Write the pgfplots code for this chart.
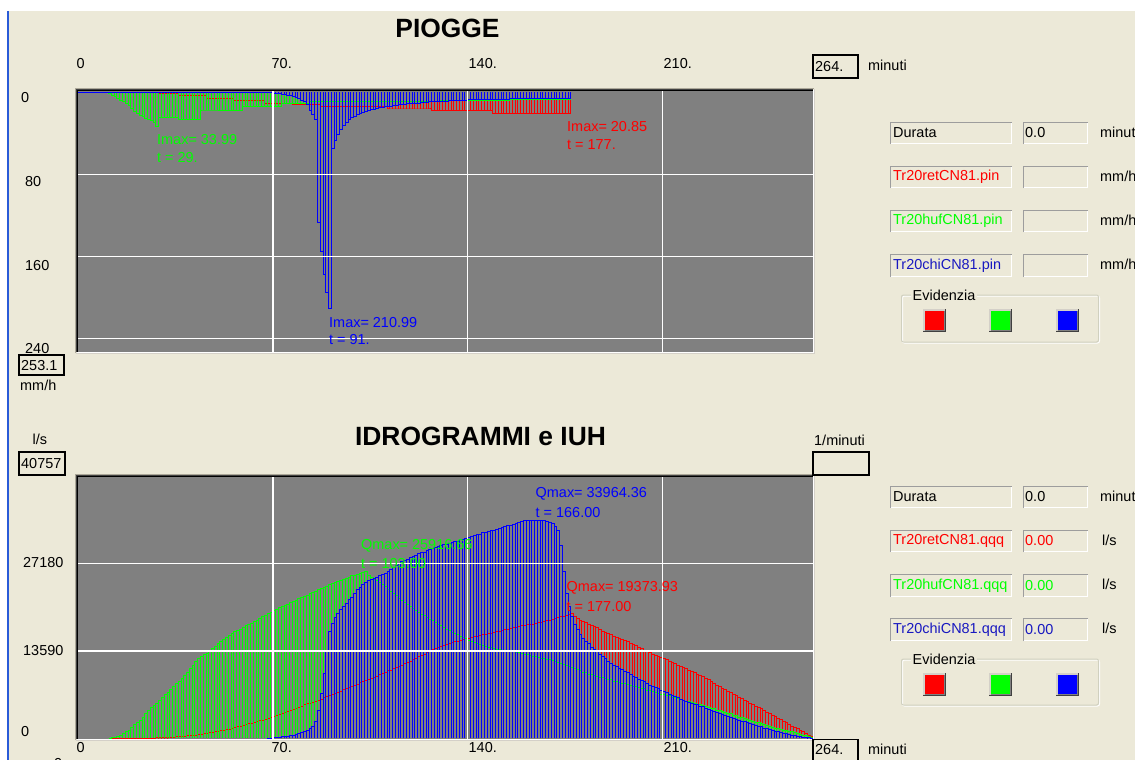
\documentclass[border=0pt]{standalone}
\usepackage{fontspec}
\setmainfont{Liberation Sans}
\usepackage{pgfplots}
\usepackage{pgfplotstable}
\pgfplotsset{compat=1.18}
\definecolor{bg}{HTML}{ECE9D8}
\definecolor{plotgray}{HTML}{808080}
\definecolor{rr}{HTML}{FF0000}
\definecolor{gg}{HTML}{00FF00}
\definecolor{bb}{HTML}{0000FF}
\definecolor{bt}{HTML}{1818C0}
\definecolor{xpblue}{HTML}{2A5BD7}
\definecolor{cA}{HTML}{ACA899}
\definecolor{cB}{HTML}{404040}
\definecolor{cC}{HTML}{D4D0C8}
\definecolor{cD}{HTML}{D0D0BF}
\definecolor{cE}{HTML}{9D9D9D}

% Top plot: rain intensity (mm/h), bar t..t+1
\pgfplotstableread{
t r g b
0 0 0 0
1 0 0 0
2 0 0 0
3 0 0 0
4 0 0 0
5 0 0 0
6 0 0 0
7 0 0 0
8 0 0 0
9 0 0 0
10 0 0 0
11 0 1.3 0
12 0.6 3.0 0
13 0.6 4.5 0
14 0.6 6.1 0
15 0.6 8.0 0
16 0.6 9.5 0
17 0.6 11.0 0
18 0.6 13.5 0
19 0.6 15.8 0
20 0.6 18.5 0
21 0.6 20.7 0
22 0.6 22.9 0
23 0.6 23.8 0
24 0.6 25.5 0
25 0.6 26.5 0
26 0.6 27.5 0
27 0.6 29.4 0
28 0.6 33.99 0
29 1.3 24.6 0
30 1.3 24.6 0
31 1.3 24.6 0
32 1.3 24.6 0
33 1.3 24.6 0
34 1.3 24.6 0
35 1.3 24.6 0
36 3.6 26.8 0
37 3.6 26.8 0
38 3.6 26.8 0
39 3.6 26.8 0
40 3.6 26.8 0
41 3.6 26.8 0
42 3.6 26.8 0
43 3.6 26.8 0
44 3.6 17.5 0
45 3.6 17.5 0
46 6.1 17.5 0
47 6.1 17.5 0
48 6.1 17.5 0
49 6.1 17.5 0
50 6.1 17.5 0
51 6.1 18.4 0
52 6.1 18.4 0
53 6.1 18.4 0
54 6.1 18.4 0
55 6.1 18.4 0
56 8.7 18.4 0
57 8.7 18.4 0
58 8.7 18.4 0
59 8.7 14.2 0
60 8.7 14.2 0
61 8.7 14.2 0
62 8.7 14.2 0
63 8.7 14.2 0
64 8.7 14.2 0
65 8.7 14.2 0
66 8.7 14.2 0
67 11.0 14.2 0
68 11.0 14.2 0.5
69 11.0 14.2 0.8
70 11.0 14.2 1.0
71 11.0 14.2 1.3
72 11.0 14.2 1.6
73 11.0 11.0 2.0
74 11.0 11.0 2.4
75 11.0 11.0 2.9
76 11.0 11.0 3.5
77 12.6 11.0 4.2
78 12.6 11.0 5.0
79 12.6 11.0 6.1
80 12.6 11.0 7.8
81 12.6 11.0 9.4
82 12.6 11.0 12.6
83 12.6 9.4 17.5
84 12.6 9.4 22.0
85 12.6 9.4 27.2
86 12.6 9.4 127
87 14.2 9.4 155
88 14.2 9.4 178
89 14.2 9.4 195
90 14.2 9.4 210.99
91 14.2 9.4 55
92 14.2 9.4 47
93 14.2 9.4 41
94 14.2 9.4 36
95 14.2 9.4 32.5
96 14.2 9.4 29.5
97 14.2 9.4 27
98 14.2 9.4 25
99 14.2 9.4 23.5
100 14.2 9.4 22
101 14.2 9.4 20.8
102 14.2 9.4 19.8
103 14.2 9.4 19.0
104 14.2 9.4 18.2
105 14.2 9.4 17.4
106 14.2 9.4 16.7
107 14.2 9.4 16.0
108 14.2 9.4 15.4
109 14.2 9.4 14.9
110 14.2 9.4 14.4
111 16.5 9.4 14.0
112 16.5 9.4 13.6
113 16.5 9.4 13.2
114 16.5 9.4 12.8
115 16.5 9.4 12.5
116 16.5 9.4 12.2
117 16.5 9.4 11.9
118 16.5 9.4 11.6
119 16.5 9.4 11.3
120 16.5 9.4 11.0
121 16.5 9.4 10.7
122 16.5 9.4 10.7
123 16.5 9.4 10.5
124 16.5 9.4 10.3
125 16.5 9.4 10.1
126 16.5 9.4 9.4
127 18.4 9.4 9.4
128 18.4 9.4 9.4
129 18.4 9.4 9.4
130 18.4 7.8 9.4
131 18.4 7.8 9.4
132 18.4 7.8 9.4
133 18.4 7.8 8.4
134 18.4 7.8 8.4
135 18.4 7.8 8.4
136 18.4 7.8 8.4
137 18.4 7.8 8.4
138 18.4 7.8 8.4
139 18.4 7.8 8.4
140 18.4 7.8 7.4
141 18.4 7.8 7.4
142 18.4 7.8 7.4
143 18.4 7.8 7.4
144 18.4 7.8 7.4
145 18.4 7.8 7.4
146 18.4 7.8 7.4
147 18.4 7.8 7.4
148 18.4 7.8 7.4
149 20.6 7.8 7.4
150 20.6 7.8 7.4
151 20.6 7.8 7.4
152 20.6 7.8 7.4
153 20.6 7.8 7.4
154 20.6 7.8 7.4
155 20.6 6.8 6.1
156 20.6 6.8 6.1
157 20.6 6.8 6.1
158 20.6 6.8 6.1
159 20.6 6.8 6.1
160 20.6 6.8 6.1
161 20.6 6.8 6.1
162 20.6 6.8 6.1
163 20.6 6.8 6.1
164 20.6 6.8 6.1
165 20.6 6.8 6.1
166 20.6 6.8 6.1
167 20.6 6.8 6.1
168 20.6 6.8 6.1
169 20.6 6.8 6.1
170 20.6 6.8 6.1
171 20.6 6.8 6.1
172 20.6 6.8 6.1
173 20.6 6.8 6.1
174 20.6 6.8 6.1
175 20.6 6.8 6.1
176 20.85 6.8 6.1
177 20.85 6.8 6.1
}\toptab

% Bottom plot: discharge (thousand l/s)
\pgfplotstableread{
t r g b
0 0 0 0
1 0 0 0
2 0 0 0
3 0 0 0
4 0 0 0
5 0 0 0
6 0 0 0
7 0 0 0
8 0 0 0
9 0 0 0
10 0 0 0
11 0 0 0
12 0 0.1 0
13 0.02 0.2 0
14 0.02 0.35 0
15 0.02 0.5 0
16 0.02 0.75 0
17 0.02 1.0 0
18 0.02 1.3 0
19 0.02 1.7 0
20 0.02 2.1 0
21 0.05 2.5 0
22 0.05 2.85 0
23 0.05 3.3 0
24 0.05 3.8 0
25 0.05 4.3 0
26 0.05 4.75 0
27 0.05 5.1 0
28 0.1 5.5 0
29 0.1 5.9 0
30 0.1 6.3 0
31 0.1 6.8 0
32 0.1 7.2 0
33 0.15 7.6 0
34 0.2 8.0 0
35 0.25 8.5 0
36 0.3 8.9 0
37 0.33 9.3 0
38 0.36 9.8 0
39 0.4 10.3 0
40 0.43 10.8 0
41 0.47 11.4 0
42 0.5 12.0 0
43 0.58 12.4 0
44 0.66 12.7 0
45 0.74 13.0 0
46 0.82 13.2 0
47 0.9 13.6 0
48 0.98 14.0 0
49 1.06 14.3 0
50 1.14 14.7 0
51 1.22 15.0 0
52 1.3 15.4 0
53 1.38 15.7 0
54 1.45 16.0 0
55 1.56 16.3 0
56 1.68 16.6 0
57 1.8 16.8 0
58 1.91 17.0 0
59 2.03 17.2 0
60 2.15 17.5 0
61 2.27 17.7 0
62 2.38 17.9 0
63 2.5 18.2 0
64 2.62 18.4 0
65 2.73 18.7 0
66 2.85 18.9 0
67 3.0 19.2 0
68 3.15 19.4 0
69 3.3 19.6 0.05
70 3.45 19.9 0.1
71 3.6 20.1 0.15
72 3.75 20.3 0.2
73 3.9 20.5 0.25
74 4.05 20.7 0.3
75 4.2 20.9 0.35
76 4.35 21.1 0.4
77 4.5 21.3 0.5
78 4.7 21.5 0.6
79 4.86 21.7 0.7
80 5.0 21.9 0.85
81 5.2 22.1 1.0
82 5.35 22.3 1.2
83 5.5 22.5 1.5
84 5.65 22.7 1.9
85 5.8 22.9 2.6
86 5.95 23.1 4.4
87 6.1 23.3 7.0
88 6.3 23.5 10.1
89 6.45 23.7 13.5
90 6.6 23.9 16.7
91 6.8 24.1 17.9
92 7.0 24.3 18.8
93 7.2 24.4 19.5
94 7.35 24.6 20.0
95 7.55 24.8 20.5
96 7.75 24.9 21.0
97 7.9 25.1 21.6
98 8.1 25.3 22.0
99 8.3 25.4 22.6
100 8.45 25.5 23.1
101 8.65 25.6 23.5
102 8.8 25.8 23.9
103 9.0 25.92 24.2
104 9.1 25.4 24.5
105 9.3 25.1 24.7
106 9.5 24.8 24.9
107 9.7 24.5 25.1
108 9.9 24.2 25.3
109 10.1 23.9 25.5
110 10.3 23.6 25.7
111 10.5 23.2 26.0
112 10.6 22.9 26.3
113 10.8 22.5 26.6
114 11.0 22.2 26.9
115 11.2 21.8 27.2
116 11.4 21.5 27.5
117 11.6 21.2 27.7
118 11.8 20.8 27.9
119 12.0 20.5 28.1
120 12.3 20.2 28.3
121 12.5 19.9 28.5
122 12.7 19.6 28.7
123 12.9 19.3 28.9
124 13.1 19.1 29.0
125 13.3 18.8 29.2
126 13.6 18.5 29.4
127 13.8 18.3 29.5
128 14.0 18.0 29.7
129 14.2 17.7 29.8
130 14.3 17.5 30.0
131 14.5 17.2 30.1
132 14.6 17.0 30.2
133 14.7 16.8 30.4
134 14.9 16.5 30.5
135 15.0 16.3 30.6
136 15.1 16.1 30.7
137 15.2 15.9 30.9
138 15.4 15.7 31.0
139 15.5 15.5 31.1
140 15.6 15.3 31.2
141 15.7 15.1 31.4
142 15.8 14.9 31.5
143 15.9 14.8 31.7
144 16.0 14.6 31.8
145 16.1 14.4 32.0
146 16.2 14.3 32.1
147 16.3 14.2 32.2
148 16.4 14.1 32.3
149 16.5 14.0 32.4
150 16.6 13.9 32.5
151 16.7 13.8 32.7
152 16.8 13.7 32.8
153 16.9 13.7 32.9
154 17.0 13.6 33.1
155 17.1 13.6 33.2
156 17.2 13.5 33.3
157 17.3 13.4 33.5
158 17.4 13.3 33.6
159 17.5 13.2 33.8
160 17.6 13.1 33.9
161 17.7 13.0 33.9
162 17.75 12.9 33.9
163 17.8 12.8 33.95
164 17.9 12.7 33.95
165 18.0 12.6 33.96
166 18.1 12.5 33.96
167 18.2 12.4 33.9
168 18.3 12.3 33.8
169 18.4 12.2 33.6
170 18.5 12.1 33.4
171 18.6 12.0 33.0
172 18.75 11.8 32.4
173 18.9 11.7 30.0
174 19.0 11.5 26.0
175 19.15 11.4 22.5
176 19.3 11.2 20.5
177 19.37 11.0 19.0
178 18.9 10.8 17.8
179 18.6 10.7 16.9
180 18.4 10.5 16.2
181 18.2 10.3 15.6
182 18.0 10.2 15.1
183 17.8 10.0 14.7
184 17.6 9.9 14.2
185 17.4 9.8 13.8
186 17.2 9.6 13.5
187 17.0 9.5 13.1
188 16.7 9.4 12.7
189 16.5 9.3 12.4
190 16.3 9.2 12.0
191 16.1 9.1 11.7
192 15.9 8.9 11.4
193 15.7 8.8 11.2
194 15.6 8.7 10.9
195 15.4 8.6 10.7
196 15.2 8.5 10.4
197 15.0 8.4 10.2
198 14.8 8.3 9.9
199 14.6 8.1 9.7
200 14.4 8.0 9.4
201 14.2 7.9 9.2
202 14.0 7.8 9.0
203 13.7 7.7 8.8
204 13.5 7.5 8.5
205 13.3 7.4 8.3
206 13.1 7.3 8.1
207 12.9 7.2 7.9
208 12.8 7.0 7.7
209 12.6 6.9 7.5
210 12.4 6.8 7.3
211 12.2 6.7 7.1
212 12.0 6.6 6.9
213 11.8 6.4 6.7
214 11.6 6.3 6.5
215 11.4 6.2 6.3
216 11.2 6.1 6.1
217 11.0 5.9 5.9
218 10.8 5.8 5.8
219 10.6 5.7 5.6
220 10.4 5.6 5.5
221 10.2 5.5 5.3
222 10.0 5.3 5.2
223 9.8 5.2 5.0
224 9.6 5.1 4.9
225 9.3 4.9 4.7
226 9.1 4.8 4.5
227 8.8 4.7 4.4
228 8.5 4.6 4.2
229 8.3 4.4 4.0
230 8.0 4.3 3.9
231 7.8 4.2 3.7
232 7.6 4.0 3.6
233 7.3 3.9 3.4
234 7.1 3.8 3.3
235 6.9 3.6 3.1
236 6.6 3.5 3.0
237 6.4 3.3 2.8
238 6.2 3.2 2.7
239 5.9 3.1 2.6
240 5.7 2.9 2.4
241 5.5 2.8 2.3
242 5.3 2.7 2.2
243 5.0 2.5 2.0
244 4.8 2.4 1.9
245 4.6 2.3 1.8
246 4.3 2.1 1.6
247 4.1 2.0 1.5
248 3.8 1.9 1.4
249 3.6 1.7 1.2
250 3.4 1.6 1.1
251 3.1 1.5 1.0
252 2.9 1.4 0.9
253 2.6 1.3 0.8
254 2.4 1.2 0.7
255 2.2 1.1 0.6
256 1.9 1.0 0.5
257 1.7 0.85 0.4
258 1.5 0.7 0.35
259 1.2 0.6 0.3
260 1.0 0.5 0.2
261 0.7 0.4 0.15
262 0.5 0.3 0.1
263 0.3 0.2 0.05
264 0 0 0
}\bottab

% sunken text box: x1 y1 x2 y2 (pixel coords, y down)
\newcommand{\sunk}[4]{%
  \fill[bg] (#1,-#2) rectangle (#3,-#4);
  \draw[line width=1.2bp, cE] (#1+0.6,-#4) -- (#1+0.6,-#2-0.6) -- (#3,-#2-0.6);
  \draw[line width=1.2bp, white] (#1+0.6,-#4+0.6) -- (#3-0.6,-#4+0.6) -- (#3-0.6,-#2-0.6);
}
% black framed box
\newcommand{\bbox}[4]{\draw[line width=1.2bp, black] (#1,-#2) rectangle (#3,-#4);}
% 3D frame around a plot area
\newcommand{\pframe}[4]{%
  \draw[line width=1bp, cA] (#1-2.5,-#4-1) -- (#1-2.5,-#2+2.5) -- (#3+1,-#2+2.5);
  \draw[line width=1bp, cB] (#1-1.5,-#4) -- (#1-1.5,-#2+1.5) -- (#3,-#2+1.5);
  \draw[line width=1bp, black] (#1-0.5,-#4) -- (#1-0.5,-#2+0.5) -- (#3,-#2+0.5);
  \draw[line width=1bp, white] (#1-1,-#4-0.5) -- (#3+0.5,-#4-0.5) -- (#3+0.5,-#2+1);
  \draw[line width=1bp, cC] (#1-2,-#4-1.5) -- (#3+1.5,-#4-1.5) -- (#3+1.5,-#2+2);
}
% coloured button square: x, y(top), colour  (23 x 23)
\newcommand{\sq}[3]{%
  \fill[#3] (#1,-#2) rectangle (#1+23,-#2-23);
  \draw[line width=1.5bp, cC] (#1+0.75,-#2-23) -- (#1+0.75,-#2-0.75) -- (#1+23,-#2-0.75);
  \draw[line width=1bp, cB] (#1,-#2-22.5) -- (#1+22.5,-#2-22.5) -- (#1+22.5,-#2);
  \draw[line width=1bp, plotgray] (#1+1.5,-#2-21.5) -- (#1+21.5,-#2-21.5) -- (#1+21.5,-#2-1.5);
}
% group box: y top, y bottom, squares' top
\newcommand{\evid}[3]{%
  \draw[line width=1bp, white, rounded corners=2bp] (902.5,-#1-1) rectangle (1099.5,-#2-1);
  \draw[line width=1bp, cD, rounded corners=2bp] (901.5,-#1) rectangle (1098.5,-#2);
  \node[fill=bg, inner xsep=1.5bp, inner ysep=1bp, anchor=west] at (911,-#1) {Evidenzia};
  \sq{923}{#3}{rr}\sq{989}{#3}{gg}\sq{1056}{#3}{bb}
}

\begin{document}
\begin{tikzpicture}[x=1bp,y=1bp, every node/.style={font=\fontsize{14.5}{16}\selectfont, inner sep=0pt}]
\useasboundingbox (0,0) rectangle (1135,-760);
\fill[bg] (0,0) rectangle (1135,-760);
\fill[white] (0,0) rectangle (1135,-11);
\fill[white] (0,-11) rectangle (7,-760);
\draw[xpblue, line width=2bp] (8,-11) -- (8,-760);

% ---------- PIOGGE ----------
\begin{axis}[at={(445.5bp,-221.5bp)}, anchor=center, scale only axis,
  width=735bp, height=261bp, xmin=0, xmax=264, ymin=-1, ymax=253.1, y dir=reverse,
  axis background/.style={fill=plotgray}, axis line style={draw=none},
  xtick={70,140,210}, ytick={80,160,240}, xticklabels={}, yticklabels={},
  major tick length=0pt, grid=major, major grid style={white, line width=1.4bp},
  axis on top]
\addplot[ycomb, rr, line width=1bp] table[x=t,y=r]{\toptab};
\addplot[const plot, rr, line width=1bp] table[x=t,y=r]{\toptab};
\addplot[ycomb, gg, line width=1bp] table[x=t,y=g]{\toptab};
\addplot[const plot, gg, line width=1bp] table[x=t,y=g]{\toptab};
\addplot[ycomb, bb, line width=1bp] table[x=t,y=b]{\toptab};
\addplot[const plot, bb, line width=1bp] table[x=t,y=b]{\toptab};
\end{axis}
\pframe{78}{91}{813}{352}

% ---------- IDROGRAMMI ----------
\begin{axis}[at={(445.5bp,-607.75bp)}, anchor=center, scale only axis,
  width=735bp, height=262.5bp, xmin=0, xmax=264, ymin=-0.1, ymax=40.757,
  axis background/.style={fill=plotgray}, axis line style={draw=none},
  xtick={70,140,210}, ytick={13.59,27.18}, xticklabels={}, yticklabels={},
  major tick length=0pt, grid=major, major grid style={white, line width=1.4bp},
  axis on top]
\addplot[ycomb, rr, line width=1bp, restrict x to domain=12:264] table[x=t,y=r]{\bottab};
\addplot[const plot, rr, line width=1bp, restrict x to domain=12:264] table[x=t,y=r]{\bottab};
\addplot[ycomb, gg, line width=1bp, restrict x to domain=11:264] table[x=t,y=g]{\bottab};
\addplot[const plot, gg, line width=1bp, restrict x to domain=11:264] table[x=t,y=g]{\bottab};
\addplot[ycomb, bb, line width=1bp, restrict x to domain=68:264] table[x=t,y=b]{\bottab};
\addplot[const plot, bb, line width=1bp, restrict x to domain=68:264] table[x=t,y=b]{\bottab};
\end{axis}
\pframe{78}{476.5}{813}{739}

% ---------- annotations inside plots ----------
\node[anchor=west, text=gg] at (157,-140) {Imax= 33.99};
\node[anchor=west, text=gg] at (157,-157.5) {t = 29.};
\node[anchor=west, text=bb] at (329,-322.5) {Imax= 210.99};
\node[anchor=west, text=bb] at (329,-340) {t = 91.};
\node[anchor=west, text=rr] at (567,-127) {Imax= 20.85};
\node[anchor=west, text=rr] at (567,-144.5) {t = 177.};

\node[anchor=west, text=bb] at (535.5,-494) {Qmax= 33964.36};
\node[anchor=west, text=bb] at (535.5,-513) {t = 166.00};
\node[anchor=west, text=gg] at (361,-546) {Qmax= 25916.66};
\node[anchor=west, text=gg] at (361,-564) {t = 103.00};
\node[anchor=west, text=rr] at (566.5,-588) {Qmax= 19373.93};
\node[anchor=west, text=rr] at (566.5,-607) {t = 177.00};

% ---------- titles ----------
\node[font=\bfseries\fontsize{26.5}{30}\selectfont] at (447.5,-28) {PIOGGE};
\node[font=\bfseries\fontsize{26.5}{30}\selectfont] at (480.5,-436) {IDROGRAMMI e IUH};

% ---------- top axis labels ----------
\node[anchor=west] at (76.5,-64) {0};
\node[anchor=west] at (271.5,-64) {70.};
\node[anchor=west] at (468.5,-64) {140.};
\node[anchor=west] at (663.5,-64) {210.};
\bbox{813}{55}{858}{78}
\node[anchor=west] at (815,-66.5) {264.};
\node[anchor=west] at (868,-65) {minuti};

\node[anchor=west] at (21,-97.5) {0};
\node[anchor=west] at (25,-181.5) {80};
\node[anchor=west] at (25,-266) {160};
\node[anchor=west] at (25,-349) {240};
\fill[bg] (19,-355) rectangle (64,-375);
\bbox{19}{355}{64}{375}
\node[anchor=west] at (21,-365.5) {253.1};
\node[anchor=west] at (20,-385) {mm/h};

% ---------- bottom axis labels ----------
\node[anchor=west] at (32.5,-439) {l/s};
\bbox{19}{452}{65}{475}
\begin{scope}
\clip (19.6,-452.6) rectangle (64.4,-474.4);
\node[anchor=west] at (21,-463.5) {40757};
\end{scope}
\node[anchor=west] at (23,-562.5) {27180};
\node[anchor=west] at (23,-651) {13590};
\node[anchor=west] at (21,-731.5) {0};
\node[anchor=west] at (54,-764) {0};

\node[anchor=west] at (76.5,-748) {0};
\node[anchor=west] at (271.5,-748) {70.};
\node[anchor=west] at (468.5,-748) {140.};
\node[anchor=west] at (663.5,-748) {210.};
\bbox{813}{739.5}{858}{762}
\node[anchor=west] at (815,-750) {264.};
\node[anchor=west] at (868,-749) {minuti};

\node[anchor=west] at (814,-440) {1/minuti};
\bbox{813}{452}{869}{475}

% ---------- right panel (top) ----------
\sunk{890}{122}{1012}{144}\sunk{1023}{122}{1088}{144}
\node[anchor=west] at (893,-133) {Durata};
\node[anchor=west] at (1025,-133) {0.0};
\node[anchor=west] at (1100,-132) {minuti};
\sunk{890}{166}{1012}{188}\sunk{1023}{166}{1088}{188}
\node[anchor=west, text=rr] at (893,-177) {Tr20retCN81.pin};
\node[anchor=west] at (1100,-176) {mm/h};
\sunk{890}{210}{1012}{232}\sunk{1023}{210}{1088}{232}
\node[anchor=west, text=gg] at (893,-221) {Tr20hufCN81.pin};
\node[anchor=west] at (1100,-220) {mm/h};
\sunk{890}{254}{1012}{277}\sunk{1023}{254}{1088}{277}
\node[anchor=west, text=bt] at (893,-265.5) {Tr20chiCN81.pin};
\node[anchor=west] at (1100,-264.5) {mm/h};
\evid{295}{342}{309}

% ---------- right panel (bottom) ----------
\sunk{890}{486}{1012}{508}\sunk{1023}{486}{1088}{508}
\node[anchor=west] at (893,-497) {Durata};
\node[anchor=west] at (1025,-497) {0.0};
\node[anchor=west] at (1100,-496) {minuti};
\sunk{890}{530}{1012}{552}\sunk{1023}{530}{1088}{552}
\node[anchor=west, text=rr] at (893,-541) {Tr20retCN81.qqq};
\node[anchor=west, text=rr] at (1025,-541) {0.00};
\node[anchor=west] at (1102,-540) {l/s};
\sunk{890}{574}{1012}{597}\sunk{1023}{574}{1088}{597}
\node[anchor=west, text=gg] at (893,-585.5) {Tr20hufCN81.qqq};
\node[anchor=west, text=gg] at (1025,-585.5) {0.00};
\node[anchor=west] at (1102,-584.5) {l/s};
\sunk{890}{618}{1012}{641}\sunk{1023}{618}{1088}{641}
\node[anchor=west, text=bt] at (893,-629.5) {Tr20chiCN81.qqq};
\node[anchor=west, text=bt] at (1025,-629.5) {0.00};
\node[anchor=west] at (1102,-628.5) {l/s};
\evid{659}{705}{673}
\end{tikzpicture}
\end{document}
